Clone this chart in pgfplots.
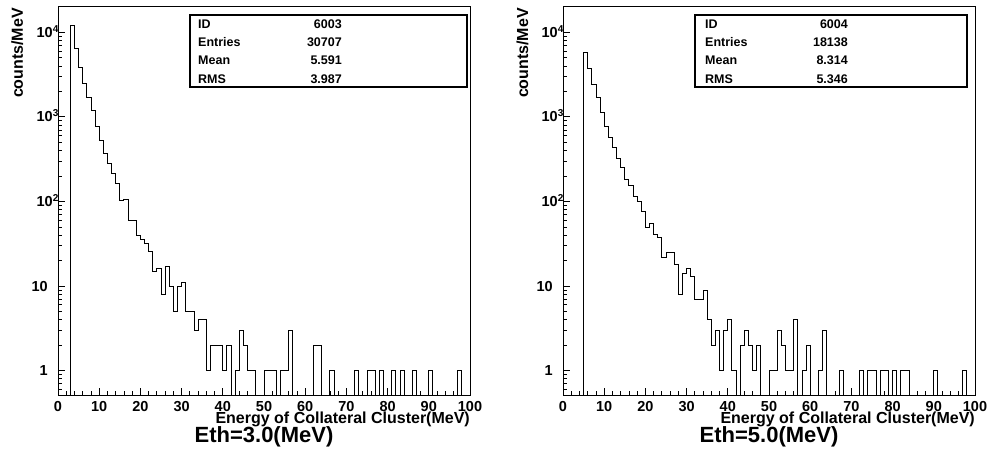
\documentclass[border=0pt]{standalone}
\usepackage{pgfplots}
\pgfplotsset{compat=1.18}
\usepackage{pgfplotstable}
\usepackage{fontspec}
\setmainfont{Liberation Sans}

% bin left edge, counts (0 written as 0.001 so it drops below the axis)
\pgfplotstableread{
x y
0 0.001
1 0.001
2 0.001
3 12000
4 6500
5 3820
6 2500
7 1720
8 1200
9 767
10 524
11 371
12 282
13 217
14 164
15 102
16 105
17 59
18 59
19 40
20 36
21 32
22 26
23 15
24 16
25 8
26 17
27 10
28 5
29 10
30 11
31 5
32 5
33 3
34 4
35 4
36 1
37 2
38 2
39 2
40 1
41 2
42 0.001
43 1
44 3
45 2
46 1
47 1
48 0.001
49 0.001
50 1
51 1
52 1
53 0.001
54 1
55 1
56 3
57 0.001
58 0.001
59 0.001
60 0.001
61 0.001
62 2
63 2
64 0.001
65 0.001
66 1
67 0.001
68 0.001
69 0.001
70 0.001
71 0.001
72 1
73 0.001
74 0.001
75 1
76 1
77 0.001
78 1
79 0.001
80 0.001
81 1
82 0.001
83 1
84 0.001
85 0.001
86 1
87 0.001
88 0.001
89 0.001
90 1
91 0.001
92 0.001
93 0.001
94 0.001
95 0.001
96 0.001
97 1
98 0.001
99 0.001
100 0.001
}\histA

\pgfplotstableread{
x y
0 0.001
1 0.001
2 0.001
3 0.001
4 0.001
5 5800
6 3700
7 2430
8 1700
9 1130
10 767
11 573
12 432
13 324
14 253
15 183
16 155
17 116
18 99
19 76
20 50
21 55
22 41
23 38
24 22
25 25
26 25
27 18
28 8
29 14
30 16
31 13
32 7
33 7
34 9
35 4
36 2
37 3
38 1
39 3
40 4
41 1
42 0.001
43 2
44 3
45 2
46 1
47 2
48 0.001
49 0.001
50 1
51 1
52 3
53 2
54 1
55 1
56 4
57 0.001
58 1
59 2
60 0.001
61 0.001
62 1
63 3
64 0.001
65 0.001
66 0.001
67 1
68 0.001
69 0.001
70 0.001
71 0.001
72 1
73 0.001
74 1
75 1
76 0.001
77 1
78 1
79 0.001
80 1
81 0.001
82 1
83 1
84 0.001
85 0.001
86 0.001
87 0.001
88 0.001
89 0.001
90 1
91 0.001
92 0.001
93 0.001
94 0.001
95 0.001
96 0.001
97 1
98 0.001
99 0.001
100 0.001
}\histB

\newcommand{\supl}[1]{10\rlap{\smash{\raisebox{5pt}{\fontsize{10}{10}\selectfont #1}}}\hspace*{-5pt}}

\pgfplotsset{
  roothist/.style={
    anchor=south west, scale only axis,
    width=412pt, height=388pt,
    xmin=0, xmax=100, ymin=0.516, ymax=19900,
    axis line style={line width=1pt},
    tick align=inside, xtick pos=left, ytick pos=left,
    xtick={0,10,20,30,40,50,60,70,80,90,100},
    xticklabels={0,10,20,30,40,50,60,70,80,90,100},
    minor xtick={2,4,6,8,12,14,16,18,22,24,26,28,32,34,36,38,42,44,46,48,52,54,56,58,62,64,66,68,72,74,76,78,82,84,86,88,92,94,96,98},
    ytick={1,10,100,1000,10000},
    yticklabels={1,10,\supl{2},\supl{3},\supl{4}},
    minor ytick={0.6,0.7,0.8,0.9,2,3,4,5,6,7,8,9,20,30,40,50,60,70,80,90,200,300,400,500,600,700,800,900,2000,3000,4000,5000,6000,7000,8000,9000},
    major tick length=7.4pt, minor tick length=3.8pt,
    every tick/.style={black, line width=0.8pt},
    tick label style={font=\fontsize{14.5}{14.5}\selectfont\bfseries, inner sep=0pt},
    xticklabel style={anchor=north, yshift=-6pt},
    yticklabel style={anchor=east, xshift=-10pt},
  }
}

\begin{document}
\begin{tikzpicture}[x=1pt,y=1pt]
\useasboundingbox (0,0) rectangle (990,464);

\begin{axis}[ymode=log, at={(58pt,69pt)}, roothist]
\addplot[const plot, black, line width=0.9pt] table[x=x,y=y] {\histA};
\end{axis}

\begin{axis}[ymode=log, at={(563pt,69pt)}, roothist]
\addplot[const plot, black, line width=0.9pt] table[x=x,y=y] {\histB};
\end{axis}

% stats boxes
\draw[line width=1.2pt, fill=white] (190,377) rectangle (467,449);
\begin{scope}[every node/.style={font=\fontsize{12.5}{12.5}\selectfont\bfseries, inner sep=0pt}]
\node[anchor=base west] at (198,435.7) {ID};
\node[anchor=base west] at (198,417) {Entries};
\node[anchor=base west] at (198,399) {Mean};
\node[anchor=base west] at (198,380.7) {RMS};
\node[anchor=base east] at (342,435.7) {6003};
\node[anchor=base east] at (342,417) {30707};
\node[anchor=base east] at (342,399) {5.591};
\node[anchor=base east] at (342,380.7) {3.987};
\end{scope}

\draw[line width=1.2pt, fill=white] (695,377) rectangle (967,449);
\begin{scope}[every node/.style={font=\fontsize{12.5}{12.5}\selectfont\bfseries, inner sep=0pt}]
\node[anchor=base west] at (705,435.7) {ID};
\node[anchor=base west] at (705,417) {Entries};
\node[anchor=base west] at (705,399) {Mean};
\node[anchor=base west] at (705,380.7) {RMS};
\node[anchor=base east] at (848,435.7) {6004};
\node[anchor=base east] at (848,417) {18138};
\node[anchor=base east] at (848,399) {8.314};
\node[anchor=base east] at (848,380.7) {5.346};
\end{scope}

% axis labels and titles
\begin{scope}[every node/.style={inner sep=0pt}]
\node[rotate=90, anchor=base east, font=\fontsize{16}{16}\selectfont\bfseries] at (23,456) {counts/MeV};
\node[rotate=90, anchor=base east, font=\fontsize{16}{16}\selectfont\bfseries] at (528,456) {counts/MeV};
\node[anchor=base east, font=\fontsize{16}{16}\selectfont\bfseries] at (470,40.6) {Energy of Collateral Cluster(MeV)};
\node[anchor=base east, font=\fontsize{16}{16}\selectfont\bfseries] at (975,40.6) {Energy of Collateral Cluster(MeV)};
\node[anchor=base, font=\fontsize{22}{22}\selectfont\bfseries] at (264,21.3) {Eth=3.0(MeV)};
\node[anchor=base, font=\fontsize{22}{22}\selectfont\bfseries] at (769,21.3) {Eth=5.0(MeV)};
\end{scope}
\end{tikzpicture}
\end{document}
